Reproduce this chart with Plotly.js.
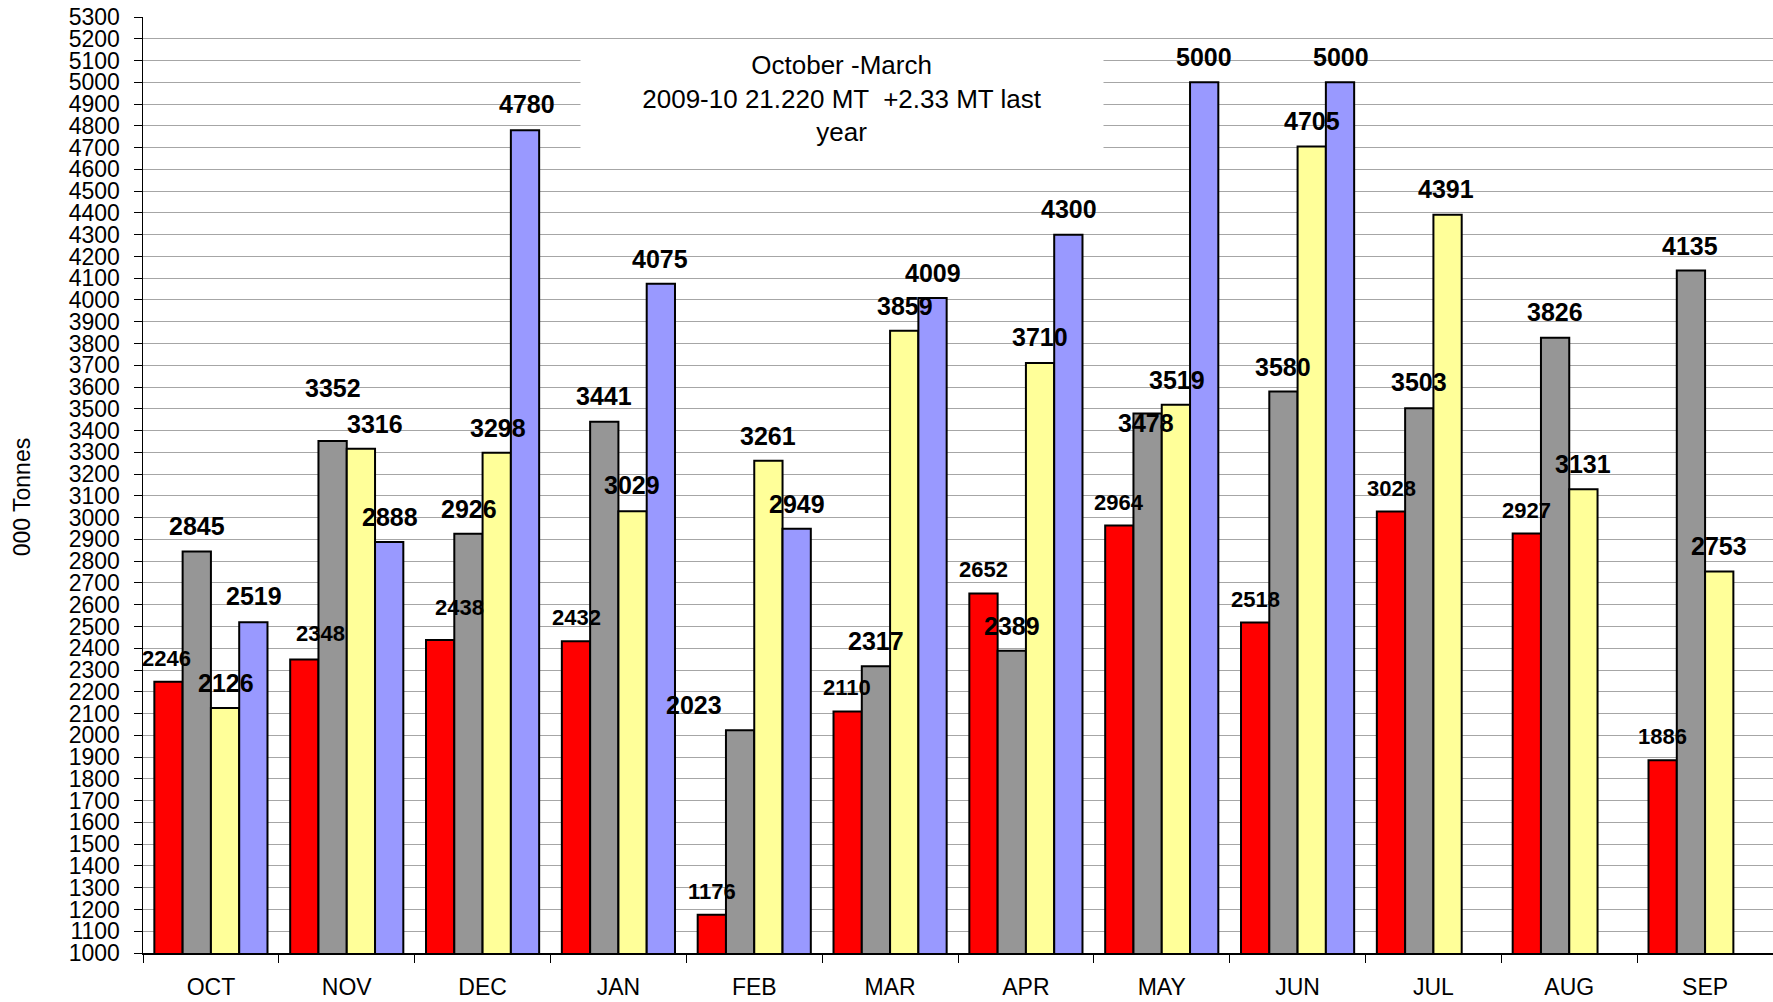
<!DOCTYPE html>
<html><head><meta charset="utf-8">
<script src="https://cdn.plot.ly/plotly-3.0.1.min.js"></script>
<style>html,body{margin:0;padding:0;background:#fff}</style>
</head><body><div id="chart" style="width:1773px;height:1002px"></div>
<script>
const months = ['OCT','NOV','DEC','JAN','FEB','MAR','APR','MAY','JUN','JUL','AUG','SEP'];
const seriesRed    = [2246,2348,2438,2432,1176,2110,2652,2964,2518,3028,2927,1886];
const seriesGray   = [2845,3352,2926,3441,2023,2317,2389,3478,3580,3503,3826,4135];
const seriesYellow = [2126,3316,3298,3029,3261,3859,3710,3519,4705,4391,3131,2753];
const seriesBlue   = [2519,2888,4780,4075,2949,4009,4300,5000,5000,null,null,null];

// label placement (data units for y, pixel shift from category centre for x)
const labelYRed    = [2354,2468,2588,2541,1284,2219,2764,3071,2624,3133,3034,1995];
const labelDXRed   = [-44,-26,-23,-42,-42,-43,-42,-43,-42,-42,-43,-43];
const labelYGray   = [2961,3595,3039,3559,2141,2432,2504,3434,3694,3621,3943,4250];
const labelDXGray  = [-14,-14,-14,-14,-60,-14,-14,-16,-15,-14,-14,-15];
const labelYYellow = [2240,3429,3413,3148,3377,3974,3829,3632,4821,4509,3247,2868];
const labelDXYellow= [15,28,15,14,14,15,14,15,14,13,14,14];
const labelYBlue   = [2640,3003,4899,4187,3065,4125,4416,5117,5117,null,null,null];
const labelDXBlue  = [43,43,44,42,43,43,43,42,43,0,0,0];

const yTicks = [];
for (let v = 1000; v <= 5300; v += 100) yTicks.push(v);

const colors = ['#ff0000','#969696','#ffff99','#9999ff'];
const allSeries = [seriesRed, seriesGray, seriesYellow, seriesBlue];
const traces = allSeries.map((s, k) => ({
  type: 'bar', x: months, y: s,
  marker: {color: colors[k], line: {color: '#000', width: 2}},
  hoverinfo: 'none', showlegend: false
}));

const annotations = [];
function addLabels(vals, ys, dxs, size) {
  vals.forEach((v, i) => {
    if (v === null) return;
    annotations.push({
      xref: 'x', yref: 'y', x: i, y: ys[i], xshift: dxs[i],
      text: String(v), showarrow: false, xanchor: 'center', yanchor: 'middle',
      font: {family: 'Liberation Sans, Arial, sans-serif', size: size, color: '#000', weight: 700}
    });
  });
}
addLabels(seriesRed, labelYRed, labelDXRed, 22);
addLabels(seriesGray, labelYGray, labelDXGray, 25);
addLabels(seriesYellow, labelYYellow, labelDXYellow, 25);
addLabels(seriesBlue, labelYBlue, labelDXBlue, 25);

annotations.push({
  xref: 'paper', yref: 'paper', x: 0.4288, y: 0.9125, xanchor: 'center', yanchor: 'middle',
  text: 'October -March<br>2009-10 21.220 MT  +2.33 MT last<br>year',
  showarrow: false, bgcolor: '#ffffff', width: 520, height: 105, align: 'center',
  font: {family: 'Liberation Sans, Arial, sans-serif', size: 26, color: '#000'}
});
annotations.push({
  xref: 'paper', yref: 'paper', x: -0.0742, y: 0.4869, xanchor: 'center', yanchor: 'middle',
  text: '000 Tonnes', textangle: -90, showarrow: false,
  font: {family: 'Liberation Sans, Arial, sans-serif', size: 23, color: '#000'}
});

const layout = {
  width: 1773, height: 1002,
  margin: {l: 143, r: 0, t: 17, b: 49, pad: 0},
  paper_bgcolor: '#fff', plot_bgcolor: '#fff',
  barmode: 'group', bargap: 0.167, bargroupgap: 0,
  xaxis: {
    type: 'category', range: [-0.5, 11.5], tickson: 'boundaries',
    ticks: 'outside', ticklen: 8, tickcolor: '#000', tickwidth: 1,
    showline: true, linecolor: '#000', linewidth: 1.5, showgrid: false,
    ticklabelstandoff: 13,
    tickfont: {family: 'Liberation Sans, Arial, sans-serif', size: 23, color: '#000'}
  },
  yaxis: {
    range: [1000, 5300], tickmode: 'array', tickvals: yTicks, ticktext: yTicks.map(String),
    ticks: 'outside', ticklen: 8, tickcolor: '#000', tickwidth: 1,
    showline: true, linecolor: '#000', linewidth: 1.5,
    showgrid: true, gridcolor: '#a6a6a6', gridwidth: 1, zeroline: false,
    ticklabelstandoff: 9,
    tickfont: {family: 'Liberation Sans, Arial, sans-serif', size: 23, color: '#000'}
  },
  annotations: annotations
};

Plotly.newPlot('chart', traces, layout, {displayModeBar: false, staticPlot: true});
</script></body></html>
